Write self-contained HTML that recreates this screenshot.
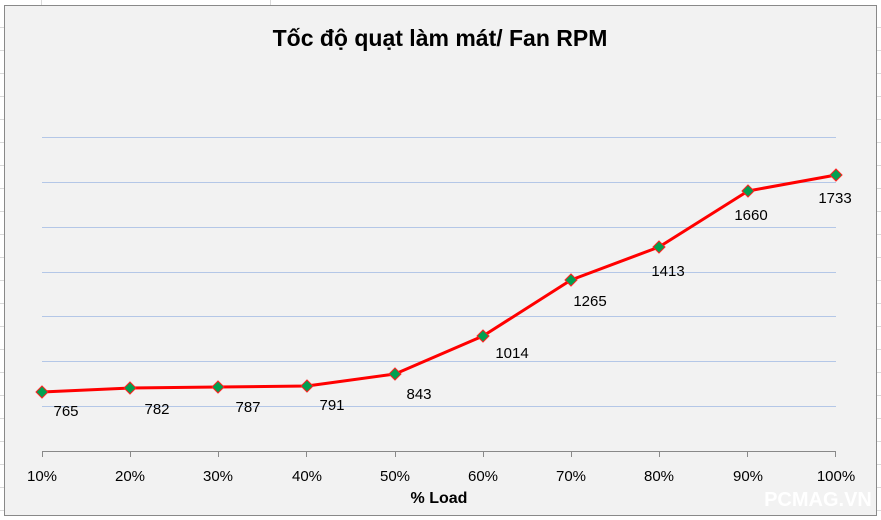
<!DOCTYPE html>
<html><head><meta charset="utf-8"><style>
html,body{margin:0;padding:0;background:#fff;}
svg{display:block;font-family:"Liberation Sans","DejaVu Sans",sans-serif;}
</style></head><body>
<svg width="881" height="520" viewBox="0 0 881 520" xmlns="http://www.w3.org/2000/svg">
<rect x="0" y="0" width="881" height="520" fill="#fff"/>
<g stroke="#d9d9d9" stroke-width="1">
<line x1="41.5" y1="0" x2="41.5" y2="5"/><line x1="270.5" y1="0" x2="270.5" y2="5"/>
<line x1="0" y1="27.5" x2="4" y2="27.5"/><line x1="0" y1="50.5" x2="4" y2="50.5"/><line x1="0" y1="73.5" x2="4" y2="73.5"/><line x1="0" y1="96.5" x2="4" y2="96.5"/><line x1="0" y1="119.5" x2="4" y2="119.5"/><line x1="0" y1="142.5" x2="4" y2="142.5"/><line x1="0" y1="165.5" x2="4" y2="165.5"/><line x1="0" y1="188.5" x2="4" y2="188.5"/><line x1="0" y1="211.5" x2="4" y2="211.5"/><line x1="0" y1="234.5" x2="4" y2="234.5"/><line x1="0" y1="257.5" x2="4" y2="257.5"/><line x1="0" y1="280.5" x2="4" y2="280.5"/><line x1="0" y1="303.5" x2="4" y2="303.5"/><line x1="0" y1="326.5" x2="4" y2="326.5"/><line x1="0" y1="349.5" x2="4" y2="349.5"/><line x1="0" y1="372.5" x2="4" y2="372.5"/><line x1="0" y1="395.5" x2="4" y2="395.5"/><line x1="0" y1="418.5" x2="4" y2="418.5"/><line x1="0" y1="441.5" x2="4" y2="441.5"/><line x1="0" y1="464.5" x2="4" y2="464.5"/><line x1="0" y1="487.5" x2="4" y2="487.5"/><line x1="0" y1="510.5" x2="4" y2="510.5"/>
<line x1="877" y1="27.5" x2="881" y2="27.5"/><line x1="877" y1="50.5" x2="881" y2="50.5"/><line x1="877" y1="73.5" x2="881" y2="73.5"/><line x1="877" y1="96.5" x2="881" y2="96.5"/><line x1="877" y1="119.5" x2="881" y2="119.5"/><line x1="877" y1="142.5" x2="881" y2="142.5"/><line x1="877" y1="165.5" x2="881" y2="165.5"/><line x1="877" y1="188.5" x2="881" y2="188.5"/><line x1="877" y1="211.5" x2="881" y2="211.5"/><line x1="877" y1="234.5" x2="881" y2="234.5"/><line x1="877" y1="257.5" x2="881" y2="257.5"/><line x1="877" y1="280.5" x2="881" y2="280.5"/><line x1="877" y1="303.5" x2="881" y2="303.5"/><line x1="877" y1="326.5" x2="881" y2="326.5"/><line x1="877" y1="349.5" x2="881" y2="349.5"/><line x1="877" y1="372.5" x2="881" y2="372.5"/><line x1="877" y1="395.5" x2="881" y2="395.5"/><line x1="877" y1="418.5" x2="881" y2="418.5"/><line x1="877" y1="441.5" x2="881" y2="441.5"/><line x1="877" y1="464.5" x2="881" y2="464.5"/><line x1="877" y1="487.5" x2="881" y2="487.5"/><line x1="877" y1="510.5" x2="881" y2="510.5"/>
</g>
<rect x="4.5" y="5.5" width="872" height="510" fill="#f2f2f2" stroke="#898989" stroke-width="1"/>
<text x="440" y="46" text-anchor="middle" font-size="23" font-weight="bold" fill="#000">Tốc độ quạt làm mát/ Fan RPM</text>
<g stroke="#b4c7e7" stroke-width="1">
<line x1="42" y1="137.5" x2="836" y2="137.5"/><line x1="42" y1="182.5" x2="836" y2="182.5"/><line x1="42" y1="227.5" x2="836" y2="227.5"/><line x1="42" y1="272.5" x2="836" y2="272.5"/><line x1="42" y1="316.5" x2="836" y2="316.5"/><line x1="42" y1="361.5" x2="836" y2="361.5"/><line x1="42" y1="406.5" x2="836" y2="406.5"/>
</g>
<g stroke="#898989" stroke-width="1">
<line x1="42" y1="451.5" x2="836" y2="451.5"/>
<line x1="42.5" y1="451" x2="42.5" y2="457"/><line x1="130.5" y1="451" x2="130.5" y2="457"/><line x1="218.5" y1="451" x2="218.5" y2="457"/><line x1="306.5" y1="451" x2="306.5" y2="457"/><line x1="395.5" y1="451" x2="395.5" y2="457"/><line x1="483.5" y1="451" x2="483.5" y2="457"/><line x1="571.5" y1="451" x2="571.5" y2="457"/><line x1="659.5" y1="451" x2="659.5" y2="457"/><line x1="747.5" y1="451" x2="747.5" y2="457"/><line x1="835.5" y1="451" x2="835.5" y2="457"/>
</g>
<g font-size="15" fill="#000" text-anchor="middle">
<text x="42" y="481">10%</text><text x="130" y="481">20%</text><text x="218" y="481">30%</text><text x="307" y="481">40%</text><text x="395" y="481">50%</text><text x="483" y="481">60%</text><text x="571" y="481">70%</text><text x="659" y="481">80%</text><text x="748" y="481">90%</text><text x="836" y="481">100%</text>
</g>
<text x="439" y="503" text-anchor="middle" font-size="16" font-weight="bold" fill="#000">% Load</text>
<polyline fill="none" stroke="#ff0000" stroke-width="3" stroke-linejoin="round" points="42,392 130,388 218,387 307,386 395,374 483,336 571,280 659,247 748,191 836,175"/>
<g fill="#00a050" stroke="#ff2020" stroke-width="1">
<polygon points="42,386 48,392 42,398 36,392"/><polygon points="130,382 136,388 130,394 124,388"/><polygon points="218,381 224,387 218,393 212,387"/><polygon points="307,380 313,386 307,392 301,386"/><polygon points="395,368 401,374 395,380 389,374"/><polygon points="483,330 489,336 483,342 477,336"/><polygon points="571,274 577,280 571,286 565,280"/><polygon points="659,241 665,247 659,253 653,247"/><polygon points="748,185 754,191 748,197 742,191"/><polygon points="836,169 842,175 836,181 830,175"/>
</g>
<g font-size="15" fill="#000" text-anchor="middle">
<text x="66" y="416">765</text><text x="157" y="414">782</text><text x="248" y="412">787</text><text x="332" y="410">791</text><text x="419" y="399">843</text><text x="512" y="358">1014</text><text x="590" y="306">1265</text><text x="668" y="276">1413</text><text x="751" y="220">1660</text><text x="835" y="203">1733</text>
</g>
<text x="818" y="506" text-anchor="middle" font-size="20" font-weight="bold" fill="#ffffff">PCMAG.VN</text>
</svg>
</body></html>
